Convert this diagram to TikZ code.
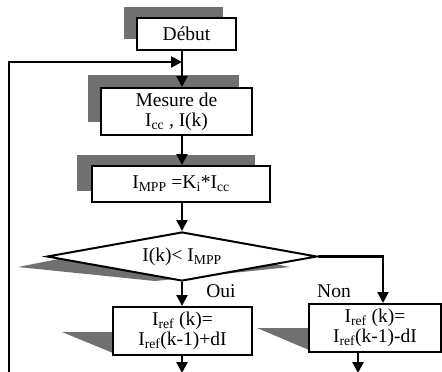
\documentclass[tikz,border=0pt]{standalone}
\usepackage{fontspec}
\setmainfont{Liberation Serif}
\usetikzlibrary{arrows.meta,shapes.geometric,shadows}
\definecolor{shadowgray}{RGB}{112,112,112}
\begin{document}
\begin{tikzpicture}[x=1pt,y=-1pt,
  every node/.style={font=\fontsize{19.5}{20}\selectfont, inner sep=0pt, align=center},
  box/.style={draw, fill=white, line width=2pt, rectangle},
  sh/.style 2 args={general shadow={fill=shadowgray, shadow xshift=#1, shadow yshift=#2}},
  link/.style={line width=2.2pt, -{Triangle[length=11pt,width=11pt]}},
  shade/.style={fill=shadowgray, draw=none}]
\useasboundingbox[fill=white] (0,0) rectangle (442,372);
\coordinate (spine) at (182,0);
\coordinate (rcol) at (383,0);

% boxes with offset shadows
\node[box, sh={-13pt}{11pt}, minimum width=99pt, minimum height=32pt] (debut) at (186.5,34) {Début};
\node[box, sh={-13pt}{13pt}, minimum width=151pt, minimum height=47pt] (mesure) at (176.5,111.5) {Mesure de\\I\textsubscript{cc} , I(k)};
\node[box, sh={-15pt}{11pt}, minimum width=178pt, minimum height=36pt] (impp) at (181,184) {I\textsubscript{MPP} =K\textsubscript{i}*I\textsubscript{cc}};

% decision
\path[shade] (18,267) -- (155,240) -- (290,267) -- (155,281) -- cycle;
\node[diamond, draw, fill=white, line width=2pt, minimum width=270pt, minimum height=49pt, aspect=5] (dec) at (182,256.5) {I(k)< I\textsubscript{MPP}};

% bottom boxes with wedge shadows
\path[shade] (62,332) -- (113,332) -- (113,353) -- cycle;
\path[shade] (257,328) -- (309,328) -- (309,350) -- cycle;
\node[box, minimum width=139pt, minimum height=48pt] (oui) at (182.5,331) {I\textsubscript{ref} (k)=\\I\textsubscript{ref}(k-1)+dI};
\node[box, minimum width=132pt, minimum height=48pt] (non) at (375,328) {I\textsubscript{ref} (k)=\\I\textsubscript{ref}(k-1)-dI};

\node (ouilab) at (221,291) {Oui};
\node (nonlab) at (334,291) {Non};

% connectors
\coordinate (loopstart) at (9,376);
\coordinate (loopcorner) at (9,62);
\draw[link] (loopstart) -- (loopcorner) -- (loopcorner -| spine);
\draw[link] (debut.south -| spine) -- (mesure.north -| spine);
\draw[link] (mesure.south -| spine) -- (impp.north -| spine);
\draw[link] (impp.south -| spine) -- (dec.north);
\draw[link] (dec.south) -- (dec.south |- oui.north);
\draw[link] (dec.east) -| (rcol |- non.north);
\coordinate (ouiend) at (182,373);
\draw[link] (oui.south -| ouiend) -- (ouiend);
\coordinate (nonend) at (358,373);
\draw[link] (non.south -| nonend) -- (nonend);
\end{tikzpicture}
\end{document}
